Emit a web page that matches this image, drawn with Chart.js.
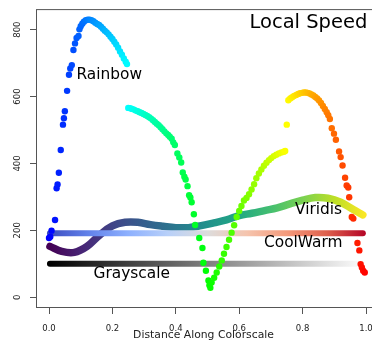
<!DOCTYPE html>
<html><head><meta charset="utf-8">
<script src="https://cdn.jsdelivr.net/npm/chart.js@4.4.1/dist/chart.umd.min.js"></script>
<style>html,body{margin:0;padding:0;background:#fff;overflow:hidden;width:372px;height:345px}canvas{display:block}</style>
</head><body>
<canvas id="c" width="385" height="345"></canvas>
<script>
// ---- data ----
const xTicks = [0, 0.2, 0.4, 0.6, 0.8, 1.0];
const yTicks = [0, 200, 400, 600, 800];

const lineX = [0.003, 0.04, 0.08, 0.12, 0.16, 0.20, 0.24, 0.28, 0.32, 0.36, 0.40, 0.44, 0.48,
               0.52, 0.56, 0.60, 0.64, 0.68, 0.72, 0.76, 0.80, 0.84, 0.88, 0.92, 0.96, 0.99];
const grayY = [100, 100, 100, 100, 100, 100, 100, 100, 100, 100, 100, 100, 100,
               100, 100, 100, 100, 100, 100, 100, 100, 100, 100, 100, 100, 100];
const coolY = [191, 191, 191, 191, 191, 191, 191, 191, 191, 191, 191, 191, 191,
               191, 191, 191, 191, 191, 191, 191, 191, 191, 191, 191, 191, 191];
const viridisY = [152, 137, 134, 152, 186, 213, 224, 224, 217, 212, 208, 208, 214,
                  222, 231, 244, 251, 259, 267, 279, 290, 298, 296, 284, 262, 246];

const rainbowX = [
  0.000, 0.004, 0.008, 0.019, 0.024, 0.027, 0.031, 0.037, 0.044, 0.047, 0.050, 0.057, 0.063,
  0.067, 0.072, 0.077, 0.082, 0.087, 0.093, 0.096, 0.100, 0.105, 0.110, 0.116, 0.122, 0.128,
  0.134, 0.140, 0.146, 0.152, 0.158, 0.164, 0.170, 0.176, 0.182, 0.188, 0.194, 0.200, 0.206,
  0.212, 0.218, 0.224, 0.230, 0.236, 0.242, 0.246,
  0.250, 0.256, 0.262, 0.268, 0.274, 0.280, 0.286, 0.292, 0.298, 0.304, 0.310, 0.316, 0.322,
  0.328, 0.334, 0.340, 0.346, 0.352, 0.358, 0.364, 0.370, 0.376, 0.381, 0.387, 0.392, 0.397,
  0.405, 0.411, 0.417, 0.422, 0.427, 0.431, 0.437, 0.442, 0.446, 0.450, 0.457, 0.461, 0.474,
  0.484, 0.487, 0.495, 0.503, 0.506, 0.509,
  0.513, 0.521, 0.529, 0.537, 0.545, 0.552, 0.560, 0.568, 0.576, 0.584, 0.592, 0.600, 0.607,
  0.615, 0.623, 0.631, 0.639, 0.647, 0.654, 0.662, 0.670, 0.678, 0.686, 0.694, 0.701, 0.709,
  0.717, 0.725, 0.733, 0.741, 0.745,
  0.750,
  0.755, 0.761, 0.767, 0.773, 0.780, 0.786, 0.792, 0.798, 0.804, 0.810, 0.816, 0.822, 0.828,
  0.834, 0.840, 0.846, 0.852, 0.858, 0.864, 0.870, 0.876, 0.881, 0.886, 0.892, 0.899, 0.905,
  0.915, 0.920, 0.926, 0.934, 0.939, 0.944, 0.947, 0.955, 0.960, 0.973, 0.979, 0.983, 0.987,
  0.991, 0.996
];
const rainbowY = [
  177, 181, 199, 231, 326, 337, 372, 440, 516, 535, 556, 617, 665,
  684, 694, 739, 759, 775, 781, 801, 810, 818, 824, 828, 830, 830,
  828, 825, 821, 817, 814, 809, 803, 797, 792, 786, 779, 772, 764,
  756, 746, 735, 725, 714, 704, 697,
  566, 565, 563, 561, 558, 556, 553, 551, 548, 545, 542, 538, 534,
  529, 524, 519, 514, 508, 502, 496, 490, 485, 480, 474, 463, 455,
  430, 418, 403, 373, 360, 352, 332, 305, 298, 284, 248, 216, 177,
  147, 103, 79, 50, 36, 28,
  44, 58, 74, 92, 110, 130, 150, 172, 193, 215, 240, 258, 273,
  289, 297, 308, 322, 338, 356, 370, 382, 393, 402, 410, 416, 422,
  426, 430, 433, 435, 437,
  516,
  589, 594, 598, 602, 605, 608, 610, 611, 612, 612, 611, 609, 606,
  603, 599, 594, 588, 581, 572, 563, 553, 544, 533, 505, 489, 471,
  436, 419, 394, 357, 334, 328, 299, 240, 235, 162, 140, 99, 89,
  79, 74
];

// ---- styles ----
const grayStops = [[0, '#000000'], [1, '#ffffff']];
const coolStops = [[0, '#3b4cc0'], [0.125, '#6282ea'], [0.25, '#8db0fe'], [0.375, '#b8d0f9'],
  [0.5, '#dddcdc'], [0.625, '#f5c4ad'], [0.75, '#f49a7b'], [0.875, '#de604d'], [1, '#b40426']];
const viridisStops = [[0, '#440154'], [0.1, '#482475'], [0.2, '#414487'], [0.3, '#355f8d'],
  [0.4, '#2a788e'], [0.5, '#21918c'], [0.6, '#22a884'], [0.7, '#44bf70'], [0.8, '#7ad151'],
  [0.9, '#bddf26'], [1, '#fde725']];

function gradFor(stops, fallback) {
  return (c) => {
    const chart = c.chart;
    const xs = chart.scales && chart.scales.x;
    if (!chart.chartArea || !xs) return fallback;
    const x0 = xs.getPixelForValue(0), x1 = xs.getPixelForValue(1);
    const g = chart.ctx.createLinearGradient(x0, 0, x1, 0);
    stops.forEach(([p, col]) => g.addColorStop(p, col));
    return g;
  };
}

const pts = (xs, ys) => xs.map((x, i) => ({x: x, y: ys[i]}));
const FONT = "'DejaVu Sans', sans-serif";

const deco = {
  id: 'deco',
  afterDraw(chart) {
    const {ctx, chartArea: a} = chart;
    ctx.save();
    ctx.strokeStyle = '#555';
    ctx.lineWidth = 1;
    ctx.strokeRect(a.left - 0.5, a.top + 0.5, a.right - a.left + 1, a.bottom - a.top);
    ctx.fillStyle = '#000';
    ctx.textBaseline = 'alphabetic';
    ctx.textAlign = 'left';
    ctx.font = '19.5px ' + FONT;
    ctx.fillText('Local Speed', 249.5, 28.3);
    ctx.font = '15.4px ' + FONT;
    ctx.fillText('Rainbow', 76.5, 79.3);
    ctx.fillText('Grayscale', 93.5, 278.2);
    ctx.fillText('CoolWarm', 264, 246.5);
    ctx.fillText('Viridis', 295, 214.3);
    ctx.fillStyle = '#222';
    ctx.font = '10.8px ' + FONT;
    ctx.textAlign = 'center';
    ctx.fillText('Distance Along Colorscale', 203.5, 338.3);
    ctx.restore();
  }
};

new Chart(document.getElementById('c'), {
  type: 'line',
  data: {
    datasets: [
      {
        label: 'Rainbow',
        data: pts(rainbowX, rainbowY),
        showLine: false,
        pointRadius: 3.2,
        pointBorderWidth: 0,
        pointBackgroundColor: rainbowX.map(x => `hsl(${240 * (1 - x)},100%,50%)`),
        pointBorderColor: 'rgba(0,0,0,0)'
      },
      {
        label: 'CoolWarm',
        data: pts(lineX, coolY),
        borderWidth: 6,
        borderCapStyle: 'round',
        borderColor: gradFor(coolStops, '#b40426'),
        pointRadius: 0,
        tension: 0
      },
      {
        label: 'Viridis',
        data: pts(lineX, viridisY),
        borderWidth: 7.5,
        borderCapStyle: 'round',
        borderJoinStyle: 'round',
        borderColor: gradFor(viridisStops, '#21918c'),
        pointRadius: 0,
        tension: 0.4
      },
      {
        label: 'Grayscale',
        data: pts(lineX, grayY),
        borderWidth: 6,
        borderCapStyle: 'round',
        borderColor: gradFor(grayStops, '#000'),
        pointRadius: 0,
        tension: 0
      }
    ]
  },
  options: {
    responsive: false,
    animation: false,
    events: [],
    layout: {padding: {top: 3, right: 6, left: 0, bottom: 0}},
    plugins: {legend: {display: false}, tooltip: {enabled: false}, title: {display: false}},
    scales: {
      x: {
        type: 'linear',
        min: -0.0379,
        max: 1.041,
        afterBuildTicks: s => { s.ticks = xTicks.map(v => ({value: v})); },
        afterFit: s => { s.height = 38; },
        border: {display: false},
        grid: {display: true, drawOnChartArea: false, drawTicks: true, tickLength: 7, color: '#555', lineWidth: 1},
        ticks: {
          autoSkip: false, maxRotation: 0, minRotation: 0, padding: 10,
          color: '#222', font: {family: FONT, size: 8.5},
          callback: v => Number(v).toFixed(1)
        }
      },
      y: {
        type: 'linear',
        min: -29.3,
        max: 861.5,
        afterBuildTicks: s => { s.ticks = yTicks.map(v => ({value: v})); },
        afterFit: s => { s.width = 37; },
        border: {display: false},
        grid: {display: true, drawOnChartArea: false, drawTicks: true, tickLength: 7, color: '#555', lineWidth: 1},
        ticks: {
          autoSkip: false, minRotation: 90, maxRotation: 90, crossAlign: 'center', padding: 4,
          color: '#222', font: {family: FONT, size: 8.5},
          callback: v => String(v)
        }
      }
    }
  },
  plugins: [deco]
});
</script>
</body></html>
